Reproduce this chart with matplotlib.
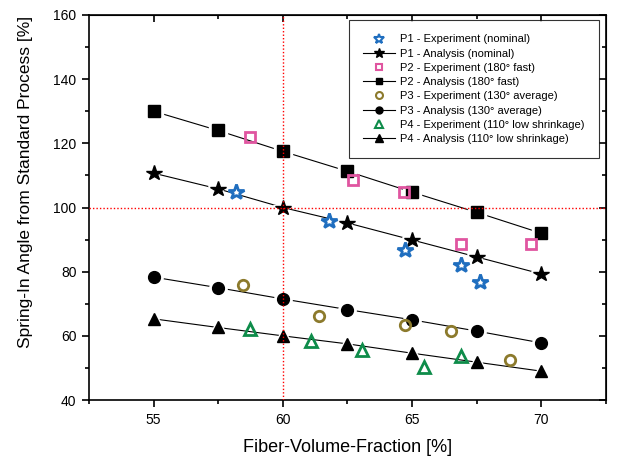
import numpy as np
import matplotlib.pyplot as plt
from matplotlib.lines import Line2D

plt.rcParams['font.family'] = ['Liberation Sans', 'DejaVu Sans']

# analysis (lines)
x_ana = [55, 57.5, 60, 62.5, 65, 67.5, 70]
p1_ana = [110.7, 105.8, 100, 95.2, 89.9, 84.6, 79.3]
p2_ana = [130, 124, 117.5, 111.3, 104.8, 98.5, 92]
p3_ana = [78.3, 75.0, 71.5, 68.2, 65.0, 61.5, 57.8]
p4_ana = [65.3, 62.6, 60.0, 57.5, 54.6, 51.8, 49.0]

# experiments
p1_x = [58.2, 61.8, 64.75, 66.9, 67.65]
p1_y = [104.8, 95.8, 86.7, 82.2, 76.8]
p2_x = [58.75, 62.7, 64.7, 66.9, 69.6]
p2_y = [122.0, 108.5, 104.8, 88.5, 88.5]
p3_x = [58.45, 61.4, 64.75, 66.5, 68.8]
p3_y = [76.0, 66.2, 63.5, 61.6, 52.6]
p4_x = [58.75, 61.1, 63.05, 65.45, 66.9]
p4_y = [62.0, 58.5, 55.7, 50.2, 53.7]

labels = ["P1 - Experiment (nominal)", "P1 - Analysis (nominal)",
          "P2 - Experiment (180° fast)", "P2 - Analysis (180° fast)",
          "P3 - Experiment (130° average)", "P3 - Analysis (130° average)",
          "P4 - Experiment (110° low shrinkage)", "P4 - Analysis (110° low shrinkage)"]

c_blue = '#1f6ebf'
c_pink = '#e055a0'
c_olive = '#8c7a2c'
c_green = '#0e8c4a'

fig = plt.figure(figsize=(6.2, 4.57), dpi=100)
ax = fig.add_axes([0.1435, 0.1247, 0.8335, 0.8425])

ax.axvline(60, color='red', ls=(0, (1, 1.5)), lw=1.0, zorder=5)
ax.axhline(100, color='red', ls=(0, (1, 1.5)), lw=1.0, zorder=5)

ana = [(p1_ana, '*', 11.5), (p2_ana, 's', 8.5), (p3_ana, 'o', 8.5), (p4_ana, '^', 9)]
for yv, m, s in ana:
    ax.plot(x_ana, yv, '-', color='k', lw=0.8, zorder=2)
    ax.plot(x_ana, yv, m, ls='none', ms=s + 4, mfc='white', mec='white', zorder=3)
    ax.plot(x_ana, yv, m, ls='none', ms=s, mfc='k', mec='k', zorder=4)

ax.plot(p1_x, p1_y, '*', ls='none', ms=11.5, mfc='white', mec=c_blue, mew=2, zorder=6)
ax.plot(p2_x, p2_y, 's', ls='none', ms=7.5, mfc='none', mec=c_pink, mew=2, zorder=6)
ax.plot(p3_x, p3_y, 'o', ls='none', ms=7.5, mfc='none', mec=c_olive, mew=2, zorder=6)
ax.plot(p4_x, p4_y, '^', ls='none', ms=8, mfc='none', mec=c_green, mew=2, zorder=6)

ax.set_xlim(52.5, 72.5)
ax.set_ylim(40, 160)
ax.set_xticks([55, 60, 65, 70])
ax.set_xticks([52.5, 57.5, 62.5, 67.5, 72.5], minor=True)
ax.set_yticks(np.arange(40, 161, 20))
ax.set_yticks(np.arange(50, 160, 20), minor=True)
ax.tick_params(which='both', direction='out', labelsize=10, width=1.2, colors='k')
ax.tick_params(which='major', length=5, pad=4)
ax.tick_params(which='minor', length=3)
for sp in ax.spines.values():
    sp.set_linewidth(1.2)

# inward ticks on top / right
tx = ax.secondary_xaxis('top')
tx.set_xticks([55, 60, 65, 70], labels=[])
tx.set_xticks([57.5, 62.5, 67.5], minor=True)
tx.tick_params(which='both', direction='in', width=1.2)
tx.tick_params(which='major', length=5)
tx.tick_params(which='minor', length=3)
ty = ax.secondary_yaxis('right')
ty.set_yticks(np.arange(40, 161, 20), labels=[])
ty.set_yticks(np.arange(50, 160, 20), minor=True)
ty.tick_params(which='both', direction='in', width=1.2)
ty.tick_params(which='major', length=5)
ty.tick_params(which='minor', length=3)

ax.set_xlabel('Fiber-Volume-Fraction [%]', fontsize=13, labelpad=9)
ax.set_ylabel('Spring-In Angle from Standard Process [%]', fontsize=12.5)
ax.yaxis.set_label_coords(-0.108, 0.566)

handles = [
    Line2D([], [], ls='none', marker='*', ms=7, mfc='white', mec=c_blue, mew=1.5),
    Line2D([], [], color='k', lw=0.8, marker='*', ms=7, mfc='k', mec='k'),
    Line2D([], [], ls='none', marker='s', ms=5, mfc='none', mec=c_pink, mew=1.5),
    Line2D([], [], color='k', lw=0.8, marker='s', ms=5, mfc='k', mec='k'),
    Line2D([], [], ls='none', marker='o', ms=5, mfc='none', mec=c_olive, mew=1.5),
    Line2D([], [], color='k', lw=0.8, marker='o', ms=5, mfc='k', mec='k'),
    Line2D([], [], ls='none', marker='^', ms=6, mfc='none', mec=c_green, mew=1.5),
    Line2D([], [], color='k', lw=0.8, marker='^', ms=6, mfc='k', mec='k'),
]
leg = ax.legend(handles, labels, loc='upper right', bbox_to_anchor=(0.987, 0.987),
                fontsize=8, frameon=True, fancybox=False, edgecolor='k',
                labelspacing=0.38, handlelength=2.8, handletextpad=0.5,
                borderpad=1.3, borderaxespad=0)
leg.get_frame().set_linewidth(0.8)
leg.set_zorder(10)

fig.savefig('out.png', dpi=100)
